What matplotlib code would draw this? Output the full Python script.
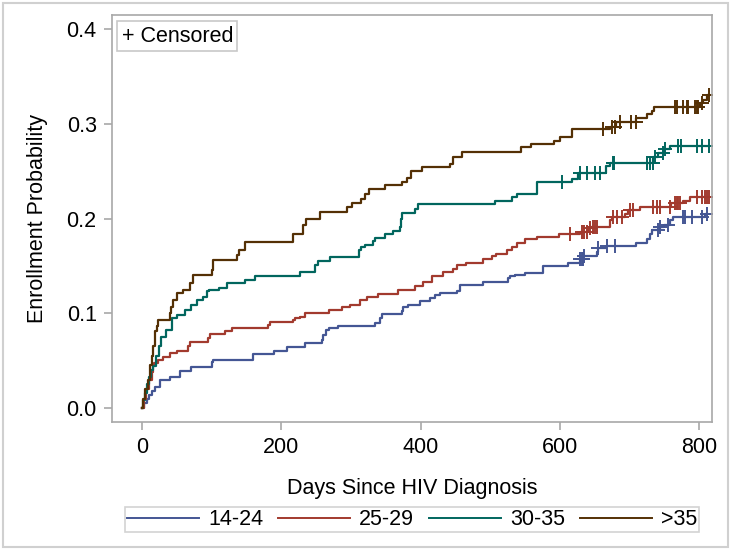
import numpy as np
import matplotlib.pyplot as plt
from matplotlib.patches import Rectangle

plt.rcParams['font.family'] = ['Liberation Sans', 'DejaVu Sans']

groups = ['14-24', '25-29', '30-35', '>35']
colors = ['#445694', '#A23A2E', '#01665E', '#543005']

# step curves: event days and cumulative enrollment probability
t_1424 = [0, 3, 7, 10, 14, 19, 26, 40, 55, 71, 100, 102, 160, 189, 208, 234, 258, 260, 265, 268,
          282, 335, 342, 345, 373, 375, 382, 399, 414, 421, 428, 452, 457, 490, 526, 529, 536, 550,
          576, 612, 629, 634, 653, 655, 667, 710, 725, 729, 732, 744, 750, 758, 763, 808]
p_1424 = [0, 0.005, 0.01, 0.014, 0.018, 0.0225, 0.0295, 0.033, 0.039, 0.0436, 0.049, 0.0506, 0.057,
          0.0605, 0.0647, 0.069, 0.072, 0.077, 0.082, 0.084, 0.087, 0.0895, 0.095, 0.099, 0.102, 0.107,
          0.109, 0.113, 0.116, 0.119, 0.121, 0.124, 0.130, 0.133, 0.137, 0.139, 0.140, 0.143, 0.150,
          0.153, 0.157, 0.160, 0.165, 0.169, 0.171, 0.174, 0.178, 0.184, 0.188, 0.191, 0.193, 0.198,
          0.202, 0.205]
c_1424 = [629, 631.4, 632.8, 634.8, 655.4, 667.4, 679, 741.6, 744, 755.9, 777.4, 779.8, 789.4,
          803.8, 810.9]

t_2529 = [0, 3, 6, 10, 14, 16, 18, 23, 30, 40, 50, 66, 69, 95, 98, 119, 129, 181, 184, 217, 220,
          227, 234, 268, 287, 299, 313, 323, 339, 368, 392, 404, 416, 432, 447, 452, 466, 490, 502,
          509, 524, 531, 538, 550, 567, 599, 629, 640, 645, 672, 675, 694, 698, 715, 760, 777, 787]
p_2529 = [0, 0.01, 0.02, 0.03, 0.038, 0.044, 0.047, 0.051, 0.054, 0.058, 0.060, 0.065, 0.070, 0.0735,
          0.078, 0.081, 0.084, 0.088, 0.091, 0.093, 0.0945, 0.0965, 0.100, 0.103, 0.107, 0.109, 0.114,
          0.117, 0.120, 0.125, 0.129, 0.133, 0.139, 0.144, 0.147, 0.151, 0.153, 0.157, 0.160, 0.163,
          0.167, 0.170, 0.174, 0.178, 0.180, 0.184, 0.186, 0.190, 0.191, 0.198, 0.202, 0.205, 0.209,
          0.212, 0.216, 0.219, 0.223]
c_2529 = [614.7, 631.4, 634.8, 639.5, 643.4, 647.2, 650.6, 653.9, 676.9, 682.6, 688.9, 700.9, 705.7,
          734.3, 739.2, 744, 758.3, 765.5, 768, 770.2, 772.6, 796.6, 803.8, 808.5, 811.9, 814.7]

t_3035 = [0, 2, 4, 7, 10, 13, 16, 20, 24, 28, 35, 43, 50, 62, 71, 79, 88, 93, 96, 110, 122, 148,
          162, 227, 248, 253, 270, 312, 315, 320, 332, 335, 349, 361, 371, 372, 374, 392, 397, 507,
          531, 538, 568, 617, 626, 667, 672, 734, 741, 749, 758]
p_3035 = [0, 0.008, 0.016, 0.025, 0.033, 0.040, 0.044, 0.055, 0.065, 0.075, 0.082, 0.095, 0.098,
          0.103, 0.109, 0.114, 0.1175, 0.123, 0.1245, 0.127, 0.132, 0.135, 0.139, 0.144, 0.151, 0.155,
          0.159, 0.167, 0.170, 0.172, 0.176, 0.179, 0.184, 0.187, 0.191, 0.200, 0.206, 0.210, 0.215,
          0.219, 0.223, 0.226, 0.239, 0.242, 0.248, 0.255, 0.259, 0.265, 0.269, 0.273, 0.277]
c_3035 = [602.7, 629, 638.6, 650.6, 657.8, 676, 677.9, 724.8, 729.3, 733.4, 736.7, 748.6, 751,
          770.2, 773.5, 796.6, 803.8, 814.7]

t_35 = [0, 2, 5, 8, 12, 14, 16, 19, 21, 23, 40, 42, 45, 50, 59, 69, 74, 100, 102, 136, 140, 148,
        217, 231, 236, 256, 294, 301, 315, 320, 326, 349, 373, 380, 387, 402, 442, 447, 459, 545,
        558, 591, 601, 617, 672, 681, 710, 725, 732, 735, 801, 806, 811]
p_35 = [0, 0.01, 0.02, 0.03, 0.045, 0.055, 0.065, 0.081, 0.087, 0.093, 0.100, 0.107, 0.114, 0.121,
        0.125, 0.132, 0.140, 0.146, 0.156, 0.162, 0.167, 0.175, 0.184, 0.193, 0.200, 0.207, 0.212,
        0.216, 0.221, 0.226, 0.231, 0.235, 0.239, 0.243, 0.250, 0.254, 0.258, 0.265, 0.270, 0.275,
        0.279, 0.282, 0.286, 0.294, 0.297, 0.302, 0.306, 0.310, 0.314, 0.318, 0.322, 0.325, 0.330]
c_35 = [661.6, 674.6, 679, 686.5, 702.9, 709.5, 765.5, 768, 777.4, 782, 784.5, 794, 796.6, 799,
        803.8, 814.3]

series = [(t_1424, p_1424, c_1424), (t_2529, p_2529, c_2529),
          (t_3035, p_3035, c_3035), (t_35, p_35, c_35)]

fs = 15.5
fig = plt.figure(figsize=(7.32, 5.5), dpi=100)
ax = fig.add_axes([0.153, 0.2327, 0.8197, 0.74])

for (t, p, c), name, col in zip(series, groups, colors):
    t = np.array(t, float)
    p = np.array(p, float)
    c = np.array(c, float)
    tend = max(t[-1], c.max())
    tt = np.append(t, tend)
    pp = np.append(p, p[-1])
    ax.plot(tt, pp, drawstyle='steps-post', color=col, lw=1.6, label=name)
    cy = p[np.searchsorted(t, c, side='right') - 1]
    ax.plot(c, cy, ls='none', marker='+', ms=10, mew=1.4, color=col)

ax.set_xlim(-43, 818.6)
ax.set_ylim(-0.0148, 0.4148)
ax.set_xticks([0, 200, 400, 600, 800])
ax.set_yticks([0.0, 0.1, 0.2, 0.3, 0.4])
ax.set_yticklabels(['0.0', '0.1', '0.2', '0.3', '0.4'])
for s in ax.spines.values():
    s.set_color('#a8a8a8')
    s.set_linewidth(1.2)
ax.tick_params(colors='#a8a8a8', labelcolor='black', labelsize=fs, length=6, width=1.2, pad=5)

ax.set_xlabel('Days Since HIV Diagnosis', fontsize=fs, labelpad=14)
ax.set_ylabel('Enrollment Probability', fontsize=fs, labelpad=13)

ax.text(0.016, 0.948, '+ Censored', transform=ax.transAxes, fontsize=fs, va='center', ha='left',
        bbox=dict(boxstyle='square,pad=0.2', fc='white', ec='#c8c8c8', lw=1.2))

leg = fig.legend(loc='lower center', bbox_to_anchor=(0.563, 0.032), ncol=4, fontsize=fs,
                 frameon=True, fancybox=False, handlelength=3.35, handletextpad=0.42,
                 columnspacing=0.68, borderpad=0.1, borderaxespad=0)
leg.get_frame().set_edgecolor('#c8c8c8')
leg.get_frame().set_linewidth(1.2)
for h in leg.get_lines():
    h.set_linewidth(1.4)

fig.patches.append(Rectangle((0.004, 0.006), 0.99, 0.988, transform=fig.transFigure,
                             fill=False, ec='#d0d0d0', lw=1.5))

fig.savefig('out.png', dpi=100)
